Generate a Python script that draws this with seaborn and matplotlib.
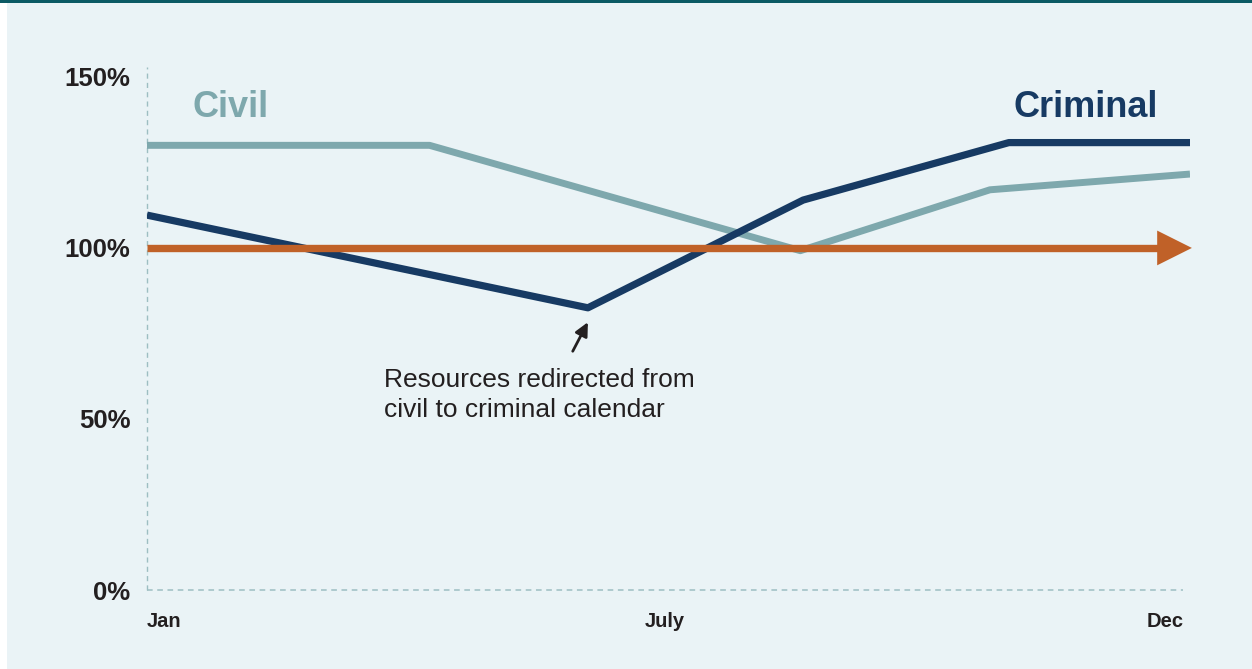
import pandas as pd
import numpy as np
import seaborn as sns
import matplotlib.pyplot as plt
from matplotlib.patches import Rectangle

# values (x = month number, y = percent)
civil_x = [1, 3.98, 7.89, 9.89, 12]
civil_y = [130, 130, 99.2, 117, 121.6]
criminal_x = [1, 5.65, 7.92, 10.09, 12]
criminal_y = [109.6, 82.5, 114, 130.8, 130.8]
baseline = 100
month_ticks = [1, 6.46, 11.93]
month_labels = ['Jan', 'July', 'Dec']
pct_ticks = [0, 50, 100, 150]
pct_labels = ['0%', '50%', '100%', '150%']

civil_col = '#7ea8ad'
criminal_col = '#173a63'
orange = '#c06128'
bg = '#eaf3f6'
dash_col = '#9dbec2'
txt = '#231f20'

df = pd.concat([
    pd.DataFrame({'month': civil_x, 'pct': civil_y, 'series': 'Civil'}),
    pd.DataFrame({'month': criminal_x, 'pct': criminal_y, 'series': 'Criminal'}),
])

sns.set_style('white')
plt.rcParams['font.family'] = ['Liberation Sans', 'DejaVu Sans']
plt.rcParams['lines.solid_capstyle'] = 'butt'

fig = plt.figure(figsize=(12.52, 6.69), dpi=100)
fig.patch.set_facecolor('white')
fig.patches.append(Rectangle((7 / 1252, 0), 1, 1, transform=fig.transFigure,
                             facecolor=bg, edgecolor='none', zorder=-10))
fig.patches.append(Rectangle((0, 1 - 2.5 / 669), 1, 2.5 / 669, transform=fig.transFigure,
                             facecolor='#0b5a64', edgecolor='none', zorder=-9))

ax = fig.add_axes([147 / 1252, (669 - 590) / 669, (1190 - 147) / 1252, (590 - 67) / 669])
ax.set_facecolor('none')

sns.lineplot(data=df, x='month', y='pct', hue='series',
             palette={'Civil': civil_col, 'Criminal': criminal_col},
             linewidth=5.2, legend=False, ax=ax, sort=False)
ax.lines[0].set_linewidth(5.0)

# 100% target line with arrow head
ax.plot([1, 11.68], [baseline, baseline], color=orange, lw=5.3, zorder=5,
        solid_capstyle='butt')
ax.annotate('', xy=(12.02, baseline), xytext=(11.5, baseline), annotation_clip=False,
            arrowprops=dict(arrowstyle='-|>,head_length=1.0,head_width=0.5',
                            mutation_scale=25, lw=0, color=orange,
                            shrinkA=0, shrinkB=0), zorder=5)

ax.set_xlim(1, 12)
ax.set_ylim(0, 152.9)

ax.axvline(1, color=dash_col, lw=1, ls=(0, (3.7, 3)), zorder=0, clip_on=False)
ax.axhline(0, xmax=(1183 - 147) / 1043, color=dash_col, lw=1.1, ls=(0, (3.7, 3)),
           zorder=0, clip_on=False)
for s in ax.spines.values():
    s.set_visible(False)

ax.set_yticks(pct_ticks)
ax.set_yticklabels(pct_labels, fontsize=18.5, fontweight='bold', color=txt)
ax.set_xticks(month_ticks)
ax.set_xticklabels(month_labels, fontsize=14.5, fontweight='bold', color=txt)
for lab, ha in zip(ax.get_xticklabels(), ['left', 'center', 'right']):
    lab.set_ha(ha)
ax.tick_params(axis='y', length=0, pad=12)
ax.tick_params(axis='x', length=0, pad=16)
ax.set_xlabel('')
ax.set_ylabel('')

ax.text(1.485, 141.2, 'Civil', color=civil_col, fontsize=26, fontweight='bold',
        ha='left', va='center')
ax.text(11.66, 141.2, 'Criminal', color=criminal_col, fontsize=26, fontweight='bold',
        ha='right', va='center')

ax.annotate('', xy=(5.65, 78.3), xytext=(5.49, 69.8),
            arrowprops=dict(arrowstyle='-|>,head_length=0.45,head_width=0.22',
                            mutation_scale=18, lw=2, color=txt, shrinkA=0, shrinkB=0))
ax.text(3.5, 57.0, 'Resources redirected from\ncivil to criminal calendar',
        fontsize=19, color=txt, ha='left', va='center', linespacing=1.35)

fig.savefig('out.png', dpi=100, facecolor=fig.get_facecolor())
